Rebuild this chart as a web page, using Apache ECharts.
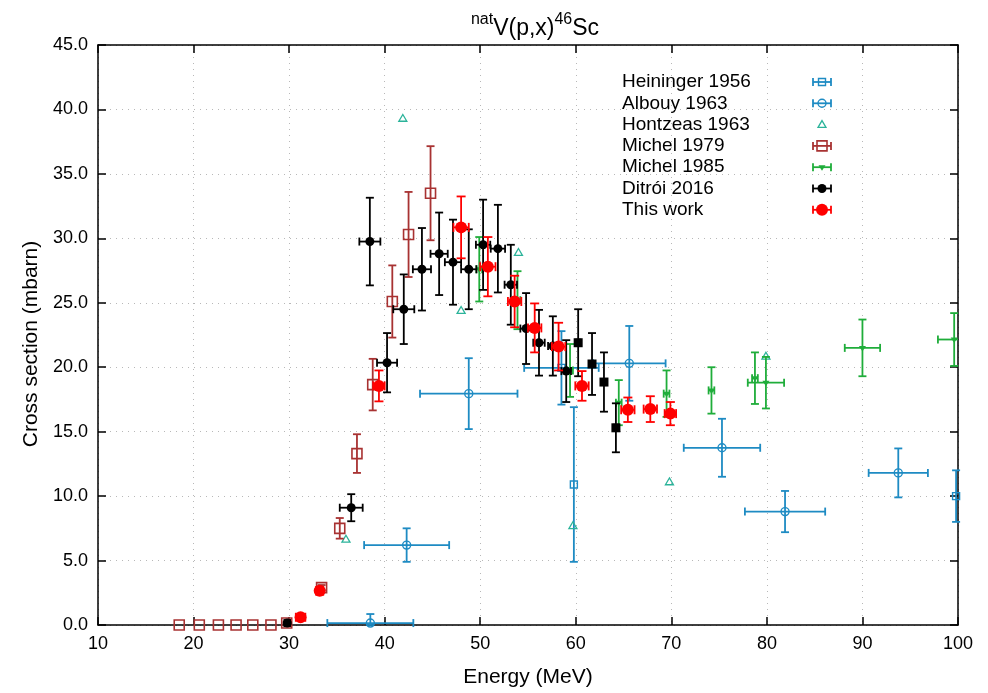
<!DOCTYPE html>
<html>
<head>
<meta charset="utf-8">
<script src="https://cdn.jsdelivr.net/npm/echarts@6/dist/echarts.min.js"></script>
<style>
  html, body { margin: 0; padding: 0; background: #fff; }
  #chart { width: 988px; height: 693px; }
</style>
</head>
<body>
<div id="chart"></div>
<script>
// energy (MeV), cross section (mbarn), energy error, cross section error
const heiningerE = [58.5, 59.8, 99.8];
const heiningerS = [19.95, 10.9, 10.0];
const heiningerDE = [3.9, 0, 0];
const heiningerDS = [2.85, 6.0, 2.0];

const albouyE = [38.5, 42.3, 48.8, 65.6, 75.3, 81.9, 93.75];
const albouyS = [0.15, 6.2, 17.95, 20.3, 13.75, 8.8, 11.8];
const albouyDE = [4.5, 4.45, 5.1, 3.8, 4.0, 4.2, 3.1];
const albouyDS = [0.7, 1.3, 2.75, 2.9, 2.25, 1.6, 1.9];

const hontzeasE = [35.95, 41.9, 48.0, 54.0, 59.7, 69.8, 79.9];
const hontzeasS = [6.65, 39.3, 24.4, 28.9, 7.7, 11.1, 20.85];

const michel79E = [18.5, 20.6, 22.6, 24.45, 26.2, 28.1, 29.75, 33.4, 35.3, 37.1, 38.75, 40.8, 42.5, 44.8];
const michel79S = [0, 0, 0, 0, 0, 0, 0.15, 2.9, 7.5, 13.3, 18.65, 25.1, 30.3, 33.5];
const michel79DS = [0, 0, 0, 0, 0, 0, 0.1, 0.2, 0.8, 1.5, 2.0, 2.8, 3.3, 3.65];

const michel85E = [49.9, 53.9, 59.4, 64.5, 69.5, 74.2, 78.75, 79.9, 90.0, 99.6];
const michel85S = [27.6, 25.2, 19.75, 17.25, 17.95, 18.2, 19.15, 18.8, 21.5, 22.15];
const michel85DE = [0.3, 0.3, 0.3, 0.3, 0.3, 0.3, 0.3, 1.9, 1.85, 1.7];
const michel85DS = [2.5, 2.25, 2.05, 1.75, 1.8, 1.8, 2.0, 2.0, 2.2, 2.05];

const ditroiE = [29.8, 36.5, 38.45, 40.25, 42.0, 43.9, 45.7, 47.15, 48.8, 50.3, 51.85, 53.2, 54.8, 56.15, 57.6, 59.0];
const ditroiS = [0.15, 9.1, 29.75, 20.35, 24.5, 27.6, 28.8, 28.15, 27.6, 29.5, 29.2, 26.4, 23.0, 21.9, 21.65, 19.7];
const ditroiDE = [0.3, 1.2, 1.1, 1.05, 1.1, 0.95, 0.9, 0.85, 0.8, 0.75, 0.75, 0.65, 0.6, 0.6, 0.5, 0.5];
const ditroiDS = [0.1, 1.05, 3.4, 2.3, 2.7, 3.2, 3.2, 3.3, 3.1, 3.5, 3.4, 3.1, 2.75, 2.55, 2.3, 2.4];
// Ditrói 2016, points drawn as squares
const ditroiSqE = [60.25, 61.7, 62.95, 64.2];
const ditroiSqS = [21.9, 20.25, 18.85, 15.3];
const ditroiSqDE = [0.2, 0.2, 0.2, 0.2];
const ditroiSqDS = [2.6, 2.4, 2.3, 1.9];

const thisE = [31.2, 33.2, 39.4, 48.0, 50.8, 53.6, 55.7, 58.2, 60.65, 65.45, 67.8, 69.9];
const thisS = [0.6, 2.65, 18.55, 30.85, 27.8, 25.1, 23.05, 21.6, 18.55, 16.7, 16.75, 16.4];
const thisDE = [0.5, 0.3, 0.6, 0.8, 0.8, 0.7, 0.7, 0.7, 0.7, 0.7, 0.7, 0.6];
const thisDS = [0.15, 0.3, 1.2, 2.4, 2.3, 2.0, 1.9, 1.85, 1.15, 0.95, 1.0, 0.9];

const FONT = 'Liberation Sans, Arial, sans-serif';
const BLUE = '#1e8bc3', TEAL = '#2bb39a', BROWN = '#a83232', GREEN = '#1fad3a', RED = '#ff0000';
const LW = 1.8;

const myChart = echarts.init(document.getElementById('chart'));

function rows(e, s, de, ds) {
  return e.map((v, i) => [v, s[i], de ? de[i] : 0, ds ? ds[i] : 0]);
}

function seg(x1, y1, x2, y2, color) {
  return { type: 'line', shape: { x1, y1, x2, y2 }, style: { stroke: color, lineWidth: LW } };
}

function marker(kind, cx, cy, color) {
  switch (kind) {
    case 'circleFill':
      return { type: 'circle', shape: { cx, cy, r: 4.5 }, style: { fill: color } };
    case 'bigCircle':
      return { type: 'circle', shape: { cx, cy, r: 6 }, style: { fill: color } };
    case 'squareFill':
      return { type: 'rect', shape: { x: cx - 4.5, y: cy - 4.5, width: 9, height: 9 }, style: { fill: color } };
    case 'circleOpen':
      return { type: 'circle', shape: { cx, cy, r: 4 }, style: { fill: 'none', stroke: color, lineWidth: 1.4 } };
    case 'squareOpen':
      return { type: 'rect', shape: { x: cx - 3.5, y: cy - 3.5, width: 7, height: 7 }, style: { fill: 'none', stroke: color, lineWidth: 1.4 } };
    case 'bigSquareOpen':
      return { type: 'rect', shape: { x: cx - 5, y: cy - 5, width: 10, height: 10 }, style: { fill: 'none', stroke: color, lineWidth: 1.6 } };
    case 'triOpen':
      return { type: 'polygon', shape: { points: [[cx, cy - 4], [cx + 4, cy + 2.8], [cx - 4, cy + 2.8]] }, style: { fill: 'none', stroke: color, lineWidth: 1.3 } };
    case 'triDown':
      return { type: 'polygon', shape: { points: [[cx - 3.5, cy - 2], [cx + 3.5, cy - 2], [cx, cy + 3.5]] }, style: { fill: color } };
  }
}

function clamp(v, a, b) { return Math.max(a, Math.min(b, v)); }

function errorRender(kind, color, cap) {
  return function (params, api) {
    const cs = params.coordSys;
    const x = api.value(0), y = api.value(1), dx = api.value(2), dy = api.value(3);
    const c = api.coord([x, y]);
    const kids = [];
    if (dy > 0) {
      const t = clamp(api.coord([x, y + dy])[1], cs.y, cs.y + cs.height);
      const b = clamp(api.coord([x, y - dy])[1], cs.y, cs.y + cs.height);
      kids.push(seg(c[0], t, c[0], b, color), seg(c[0] - cap, t, c[0] + cap, t, color), seg(c[0] - cap, b, c[0] + cap, b, color));
    }
    if (dx > 0) {
      const l = api.coord([x - dx, y])[0], r = api.coord([x + dx, y])[0];
      const lc = clamp(l, cs.x, cs.x + cs.width), rc = clamp(r, cs.x, cs.x + cs.width);
      kids.push(seg(lc, c[1], rc, c[1], color));
      if (l === lc) kids.push(seg(l, c[1] - cap, l, c[1] + cap, color));
      if (r === rc) kids.push(seg(r, c[1] - cap, r, c[1] + cap, color));
    }
    kids.push(marker(kind, c[0], c[1], color));
    return { type: 'group', children: kids };
  };
}

function errSeries(name, data, kind, color, cap) {
  return {
    name, type: 'custom', data, clip: false,
    encode: { x: 0, y: 1 },
    itemStyle: { color },
    renderItem: errorRender(kind, color, cap)
  };
}

const legendItems = [
  { name: 'Heininger 1956', kind: 'squareOpen', color: BLUE, bar: true },
  { name: 'Albouy 1963', kind: 'circleOpen', color: BLUE, bar: true },
  { name: 'Hontzeas 1963', kind: 'triOpen', color: TEAL, bar: false },
  { name: 'Michel 1979', kind: 'bigSquareOpen', color: BROWN, bar: true },
  { name: 'Michel 1985', kind: 'triDown', color: GREEN, bar: true },
  { name: 'Ditrói 2016', kind: 'circleFill', color: '#000', bar: true },
  { name: 'This work', kind: 'bigCircle', color: RED, bar: true }
];

const legendGraphics = [];
legendItems.forEach((it, i) => {
  const yc = 82 + i * 21.3;
  legendGraphics.push({
    type: 'text', x: 622, y: yc,
    style: { text: it.name, font: '19px ' + FONT, fill: '#000', textVerticalAlign: 'middle' }
  });
  const kids = [];
  if (it.bar) {
    kids.push(seg(813, yc, 831, yc, it.color), seg(813, yc - 4, 813, yc + 4, it.color), seg(831, yc - 4, 831, yc + 4, it.color));
  }
  kids.push(marker(it.kind, 822, yc, it.color));
  legendGraphics.push({ type: 'group', children: kids });
});

const frameLine = { onZero: false, lineStyle: { color: '#000', width: 1.5 } };
const frameTick = { inside: true, length: 8, lineStyle: { color: '#000', width: 1.5 } };
const gridStyle = { show: true, lineStyle: { color: '#b8b8b8', width: 1, type: [1, 5] } };

const option = {
  backgroundColor: '#fff',
  animation: false,
  title: {
    text: '{s|nat}{m|V(p,x)}{s|46}{m|Sc}',
    left: 530, top: 7, textAlign: 'center',
    textStyle: {
      fontWeight: 'normal',
      rich: {
        m: { fontSize: 23, fontFamily: FONT, fontWeight: 'normal', color: '#000', lineHeight: 28, verticalAlign: 'bottom' },
        s: { fontSize: 16, fontFamily: FONT, fontWeight: 'normal', color: '#000', lineHeight: 28, verticalAlign: 'top', padding: [0, 0, 9, 0] }
      }
    }
  },
  grid: { left: 98, right: 30, top: 45, bottom: 66 },
  xAxis: [{
    type: 'value', min: 10, max: 100, interval: 10,
    axisLine: frameLine, axisTick: frameTick, splitLine: gridStyle,
    axisLabel: { fontSize: 18, color: '#000', fontFamily: FONT, margin: 10 },
    name: 'Energy (MeV)', nameLocation: 'middle', nameGap: 42,
    nameTextStyle: { fontSize: 21, color: '#000', fontFamily: FONT }
  }, {
    type: 'value', position: 'top', min: 10, max: 100, interval: 10,
    axisLine: frameLine, axisTick: frameTick, splitLine: { show: false },
    axisLabel: { show: false }
  }],
  yAxis: [{
    type: 'value', min: 0, max: 45, interval: 5,
    axisLine: frameLine, axisTick: frameTick, splitLine: gridStyle,
    axisLabel: { fontSize: 18, color: '#000', fontFamily: FONT, margin: 10, formatter: v => v.toFixed(1) },
    name: 'Cross section (mbarn)', nameLocation: 'middle', nameGap: 56,
    nameTextStyle: { fontSize: 21, color: '#000', fontFamily: FONT, padding: [0, 18, 0, 0] }
  }, {
    type: 'value', position: 'right', min: 0, max: 45, interval: 5,
    axisLine: frameLine, axisTick: frameTick, splitLine: { show: false },
    axisLabel: { show: false }
  }],
  graphic: legendGraphics,
  series: [
    errSeries('Heininger 1956', rows(heiningerE, heiningerS, heiningerDE, heiningerDS), 'squareOpen', BLUE, 4),
    errSeries('Albouy 1963', rows(albouyE, albouyS, albouyDE, albouyDS), 'circleOpen', BLUE, 4),
    errSeries('Hontzeas 1963', rows(hontzeasE, hontzeasS), 'triOpen', TEAL, 4),
    errSeries('Michel 1979', rows(michel79E, michel79S, null, michel79DS), 'bigSquareOpen', BROWN, 4),
    errSeries('Michel 1985', rows(michel85E, michel85S, michel85DE, michel85DS), 'triDown', GREEN, 4),
    errSeries('Ditrói 2016', rows(ditroiE, ditroiS, ditroiDE, ditroiDS), 'circleFill', '#000', 4),
    errSeries('Ditrói 2016 ', rows(ditroiSqE, ditroiSqS, ditroiSqDE, ditroiSqDS), 'squareFill', '#000', 4),
    errSeries('This work', rows(thisE, thisS, thisDE, thisDS), 'bigCircle', RED, 4.5)
  ]
};

myChart.setOption(option);
</script>
</body>
</html>
